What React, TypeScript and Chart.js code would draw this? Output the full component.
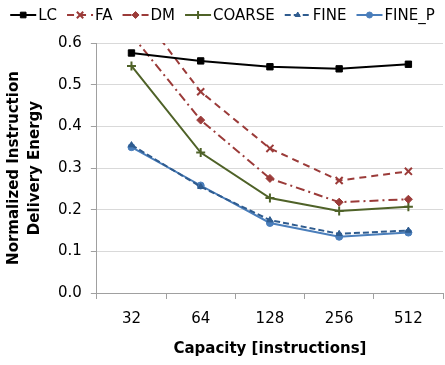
import React, { useEffect, useRef } from "react";
import { Chart, registerables } from "chart.js";
import { drawPoint } from "chart.js/helpers";

Chart.register(...registerables);

const categories = ["32", "64", "128", "256", "512"];
const lcValues = [0.576, 0.557, 0.543, 0.538, 0.549];
const faValues = [0.7, 0.483, 0.347, 0.27, 0.292];
const dmValues = [0.62, 0.415, 0.275, 0.218, 0.225];
const coarseValues = [0.545, 0.337, 0.228, 0.197, 0.207];
const fineValues = [0.355, 0.255, 0.175, 0.142, 0.15];
const fineP = [0.35, 0.258, 0.168, 0.135, 0.145];
const seriesNames = ["LC", "FA", "DM", "COARSE", "FINE", "FINE_P"];

const FONT = "'DejaVu Sans', Verdana, sans-serif";

const legendPlugin = {
  id: "customLegend",
  afterDraw(chart: any) {
    const ctx = chart.ctx;
    ctx.save();
    ctx.font = `15px ${FONT}`;
    ctx.textBaseline = "middle";
    const lineLen = 26;
    const gap = 2;
    const spacing = 10;
    const items = chart.data.datasets.map((ds: any) => ({
      ds,
      w: lineLen + gap + ctx.measureText(ds.label).width,
    }));
    const total = items.reduce((s: number, it: any) => s + it.w, 0) + spacing * (items.length - 1);
    let x = (chart.width - total) / 2;
    const y = 15;
    items.forEach((it: any) => {
      const ds = it.ds;
      ctx.strokeStyle = ds.borderColor;
      ctx.lineWidth = 2;
      ctx.setLineDash(ds.borderDash || []);
      ctx.beginPath();
      ctx.moveTo(x, y);
      ctx.lineTo(x + lineLen, y);
      ctx.stroke();
      ctx.setLineDash([]);
      ctx.fillStyle = ds.pointBackgroundColor;
      ctx.strokeStyle = ds.borderColor;
      ctx.lineWidth = ds.pointBorderWidth || 1;
      drawPoint(
        ctx,
        { pointStyle: ds.pointStyle, rotation: 0, radius: Math.max(3, ds.pointRadius - 0.5), borderWidth: ds.pointBorderWidth || 1 },
        x + lineLen / 2,
        y
      );
      ctx.fillStyle = "#000";
      ctx.textAlign = "left";
      ctx.fillText(ds.label, x + lineLen + gap, y + 1);
      x += it.w + spacing;
    });
    ctx.restore();
  },
};

export default function App() {
  const ref = useRef<HTMLCanvasElement>(null);
  useEffect(() => {
    document.body.style.margin = "0";
    const mk = (label: string, data: number[], color: string, style: string, dash: number[], radius: number, bw = 1) => ({
      label,
      data,
      borderColor: color,
      backgroundColor: color,
      pointBackgroundColor: color,
      pointBorderColor: color,
      pointStyle: style,
      pointRadius: radius,
      pointBorderWidth: bw,
      borderDash: dash,
      borderWidth: 2,
      tension: 0,
    });
    const brown = "#9B3B39";
    const chart = new Chart(ref.current!, {
      type: "line",
      data: {
        labels: categories,
        datasets: [
          mk(seriesNames[0], lcValues, "#000000", "rect", [], 4.5),
          mk(seriesNames[1], faValues, brown, "crossRot", [7, 5], 5, 2),
          mk(seriesNames[2], dmValues, brown, "rectRot", [9, 4, 2, 4], 4),
          mk(seriesNames[3], coarseValues, "#4F6228", "cross", [], 4.5, 2),
          mk(seriesNames[4], fineValues, "#2F5C8F", "triangle", [6, 3], 3.5),
          mk(seriesNames[5], fineP, "#4A7EBB", "circle", [], 3.5),
        ] as any,
      },
      options: {
        animation: false,
        responsive: false,
        layout: { autoPadding: false, padding: { top: 43, right: 2, left: 4, bottom: 7 } },
        plugins: { legend: { display: false }, tooltip: { enabled: false } },
        scales: {
          x: {
            offset: true,
            grid: { offset: true, drawOnChartArea: false, color: "#A0A0A0", tickLength: 6, drawTicks: true },
            border: { color: "#A0A0A0" },
            ticks: { color: "#000", font: { family: FONT, size: 15 }, padding: 11 },
            title: {
              display: true,
              text: "Capacity [instructions]",
              color: "#000",
              font: { family: FONT, size: 15, weight: "bold" },
              padding: { top: 1, bottom: 0 },
            },
          },
          y: {
            min: 0,
            max: 0.6,
            ticks: {
              stepSize: 0.1,
              color: "#000",
              font: { family: FONT, size: 15 },
              padding: 9,
              callback: (v: any) => Number(v).toFixed(1),
            },
            grid: { color: "#D9D9D9", tickLength: 6, tickColor: "#A0A0A0" },
            border: { color: "#A0A0A0" },
            title: {
              display: true,
              text: ["Normalized Instruction", "Delivery Energy"],
              color: "#000",
              font: { family: FONT, size: 15, weight: "bold", lineHeight: 1.4 },
              padding: { top: 0, bottom: 3 },
            },
          },
        },
      },
      plugins: [legendPlugin],
    });
    return () => chart.destroy();
  }, []);
  return <canvas ref={ref} width={445} height={365} style={{ display: "block" }} />;
}
